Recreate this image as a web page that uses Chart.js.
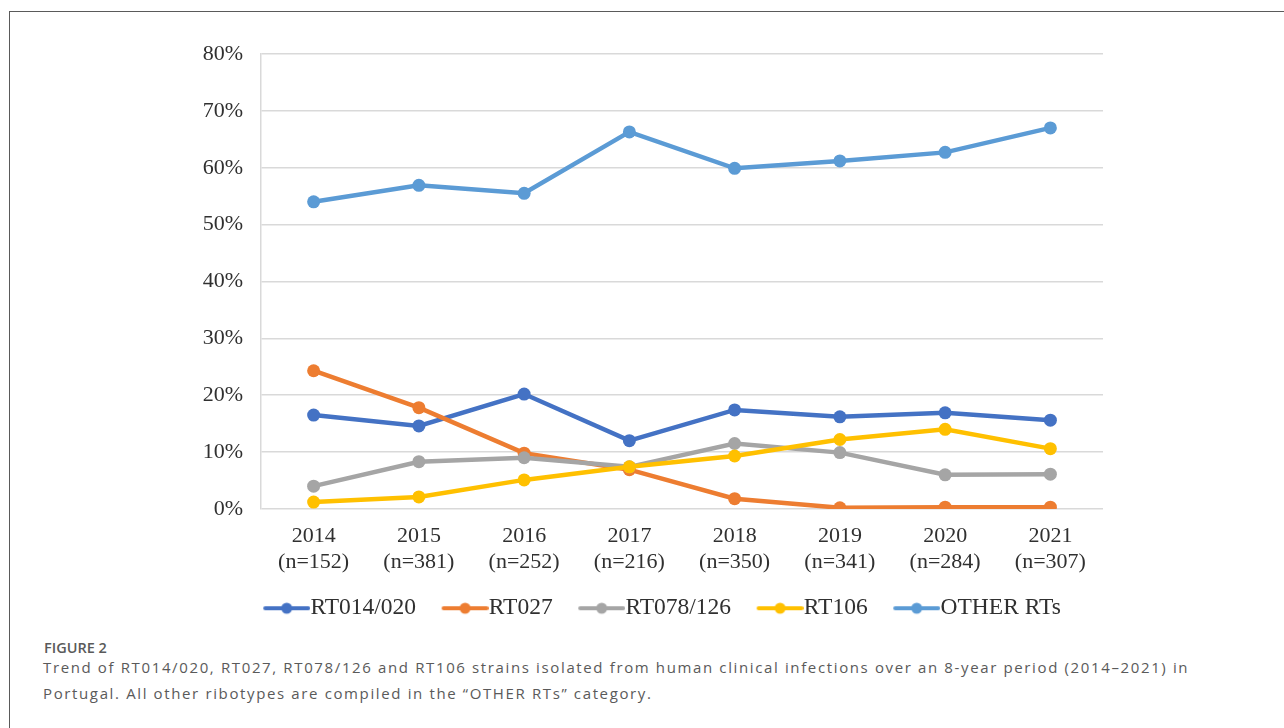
<!DOCTYPE html>
<html>
<head>
<meta charset="utf-8">
<script src="https://cdn.jsdelivr.net/npm/chart.js@4.4.1/dist/chart.umd.min.js"></script>
<style>
  html, body { margin: 0; padding: 0; background: #fff; width: 1284px; height: 728px; overflow: hidden; }
  #frame { position: absolute; left: 9px; top: 11px; width: 1400px; height: 800px; border: 1.5px solid #5a5a5a; box-sizing: border-box; }
  #wrap { position: absolute; left: 0; top: 0; width: 1284px; height: 638px; }
  #fig { position: absolute; left: 44px; top: 638px; font-family: "Open Sans", sans-serif; font-weight: 600; font-size: 14.5px; line-height: 20px; color: #5a5a5a; }
  #cap { position: absolute; left: 43px; top: 654px; width: 1200px; font-family: "Open Sans", sans-serif; font-size: 15px; letter-spacing: 1.63px; line-height: 26px; color: #5a5a5a; }
</style>
</head>
<body>
<div id="frame"></div>
<div id="wrap"><canvas id="c"></canvas></div>
<div id="fig">FIGURE 2</div>
<div id="cap">Trend of RT014/020, RT027, RT078/126 and RT106 strains isolated from human clinical infections over an 8-year period (2014–2021) in Portugal. All other ribotypes are compiled in the “OTHER RTs” category.</div>
<script>
const years = ["2014","2015","2016","2017","2018","2019","2020","2021"];
const counts = ["(n=152)","(n=381)","(n=252)","(n=216)","(n=350)","(n=341)","(n=284)","(n=307)"];
const seriesNames = ["RT014/020","RT027","RT078/126","RT106","OTHER RTs"];
const rt014_020 = [16.5, 14.6, 20.2, 12.0, 17.4, 16.2, 16.9, 15.6];
const rt027     = [24.3, 17.8, 9.8, 6.9, 1.8, 0.2, 0.3, 0.3];
const rt078_126 = [4.0, 8.3, 9.0, 7.4, 11.5, 9.9, 6.0, 6.1];
const rt106     = [1.2, 2.1, 5.1, 7.4, 9.3, 12.2, 14.0, 10.6];
const otherRTs  = [54.0, 56.9, 55.5, 66.3, 59.9, 61.2, 62.7, 67.0];
const yTicks = [0, 10, 20, 30, 40, 50, 60, 70, 80];

const colors = ["#4472C4", "#ED7D31", "#A5A5A5", "#FFC000", "#5B9BD5"];
const allData = [rt014_020, rt027, rt078_126, rt106, otherRTs];

// legend marker: line with a dot, placed in the right part of a wider transparent canvas
function legendIcon(color) {
  const cv = document.createElement('canvas');
  cv.width = 77; cv.height = 14;
  const g = cv.getContext('2d');
  g.strokeStyle = color; g.lineWidth = 4; g.lineCap = 'round';
  g.beginPath(); g.moveTo(32, 7); g.lineTo(75, 7); g.stroke();
  g.fillStyle = color; g.beginPath(); g.arc(53.5, 7, 5.5, 0, Math.PI * 2); g.fill();
  return cv;
}
const icons = colors.map(legendIcon);

const datasets = seriesNames.map((name, i) => ({
  label: name,
  data: allData[i],
  borderColor: colors[i],
  backgroundColor: colors[i],
  borderWidth: 4.5,
  pointRadius: 6.5,
  pointHoverRadius: 6.5,
  pointBorderWidth: 0,
  tension: 0,
  yAxisID: 'y',
  order: seriesNames.length - i
}));

const serif = "'Liberation Serif', 'Times New Roman', serif";

new Chart(document.getElementById('c'), {
  type: 'line',
  data: { labels: years.map((y, i) => [y, counts[i]]), datasets },
  options: {
    responsive: true,
    maintainAspectRatio: false,
    animation: false,
    layout: { padding: { left: 52.5, right: 31, top: 54, bottom: 8 } },
    plugins: {
      tooltip: { enabled: false },
      legend: {
        position: 'bottom',
        align: 'center',
        labels: {
          usePointStyle: true,
          pointStyleWidth: 54,
          padding: 7,
          color: '#303030',
          font: { family: serif, size: 23.5 },
          generateLabels: (chart) => chart.data.datasets.map((ds, i) => ({
            text: ds.label,
            fillStyle: ds.borderColor,
            strokeStyle: ds.borderColor,
            lineWidth: 0,
            pointStyle: icons[i],
            hidden: false,
            datasetIndex: i,
            fontColor: '#303030'
          }))
        }
      }
    },
    scales: {
      x: {
        offset: true,
        grid: { display: false, drawTicks: false },
        border: { display: false },
        ticks: {
          color: '#303030',
          font: { family: serif, size: 22, lineHeight: 1.15 },
          padding: 15,
          maxRotation: 0,
          autoSkip: false
        }
      },
      y: {
        min: 0, max: 80,
        afterBuildTicks: (s) => { s.ticks = yTicks.map(v => ({ value: v })); },
        afterFit: (s) => { s.width = 208.5; },
        grid: { color: '#d9d9d9', lineWidth: 1.5, drawTicks: false },
        border: { display: true, color: '#d9d9d9', width: 1.5 },
        ticks: {
          color: '#303030',
          font: { family: serif, size: 22 },
          padding: 18,
          callback: (v) => v + '%'
        }
      },
      yRight: {
        type: 'linear',
        position: 'right',
        display: true,
        grid: { display: false, drawTicks: false },
        border: { display: false },
        ticks: { display: false },
        afterFit: (s) => { s.width = 150; }
      }
    }
  }
});
</script>
</body>
</html>
